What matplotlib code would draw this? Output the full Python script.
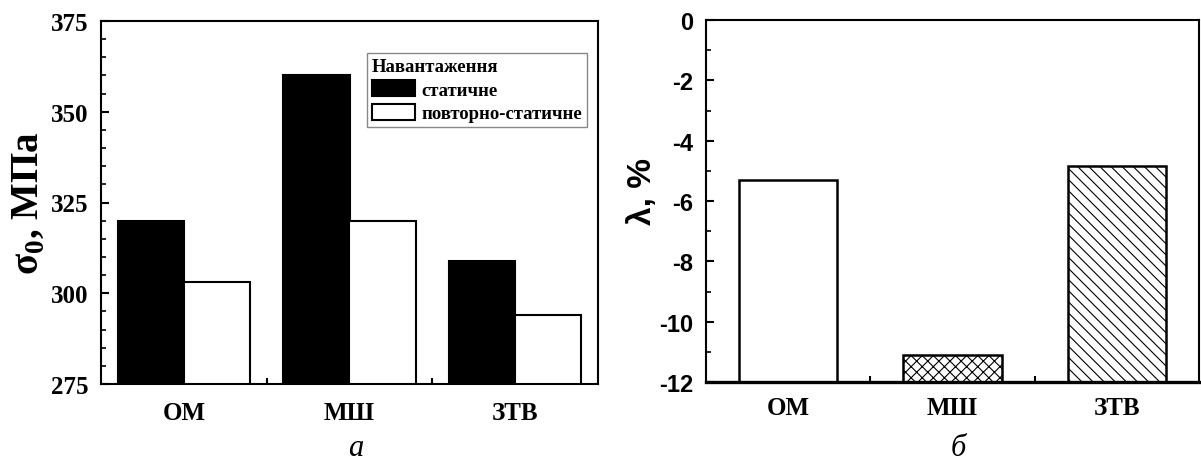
import numpy as np
import matplotlib.pyplot as plt
from matplotlib.ticker import MultipleLocator, FixedLocator

# Дані
categories = ['ОМ', 'МШ', 'ЗТВ']
sigma_static = [320, 360, 309]
sigma_repeat = [303, 320, 294]
series_labels = ['статичне', 'повторно-статичне']
legend_title = 'Навантаження'
lam = [-5.3, -11.1, -4.85]
lam_hatches = ['', 'xxx', '\\\\\\']

plt.rcParams['hatch.linewidth'] = 0.8
plt.rcParams['axes.unicode_minus'] = False
serif = 'Liberation Serif'
sans = 'Liberation Sans'

W, H = 1201, 464
fig = plt.figure(figsize=(W / 100, H / 100), dpi=100)
ax1 = fig.add_axes([101 / W, 1 - 385 / H, 497 / W, 363 / H])
ax2 = fig.add_axes([706 / W, 1 - 383 / H, 493 / W, 362 / H])

x = np.arange(len(categories))

# --- а: межа текучості ---
ax1.bar(x - 0.2, sigma_static, 0.4, color='black', edgecolor='black',
        linewidth=1.5, label=series_labels[0])
ax1.bar(x + 0.2, sigma_repeat, 0.4, color='white', edgecolor='black',
        linewidth=1.5, label=series_labels[1])
ax1.set_xlim(-0.5, 2.5)
ax1.set_ylim(275, 375)
ax1.yaxis.set_major_locator(MultipleLocator(25))
ax1.yaxis.set_minor_locator(MultipleLocator(5))
ax1.set_xticks(x)
ax1.set_xticklabels(categories)
ax1.xaxis.set_minor_locator(FixedLocator([0.5, 1.5]))
ax1.tick_params(axis='y', which='major', direction='in', length=6, width=1.5, pad=9)
ax1.tick_params(axis='y', which='minor', direction='in', length=3.5, width=1.2)
ax1.tick_params(axis='x', which='major', length=0, pad=12)
ax1.tick_params(axis='x', which='minor', direction='in', length=4, width=1.5)
for lab in ax1.get_yticklabels() + ax1.get_xticklabels():
    lab.set_fontfamily(serif)
    lab.set_fontweight('bold')
    lab.set_fontsize(18)
for sp in ax1.spines.values():
    sp.set_linewidth(1.5)
ax1.set_ylabel('σ$_\\mathregular{0}$, МПа', fontfamily=serif, fontweight='bold',
               fontsize=28)
ax1.yaxis.set_label_coords(-0.11, 0.5)

leg = ax1.legend(title=legend_title, loc='upper left', bbox_to_anchor=(0.535, 0.912),
                 prop={'family': serif, 'weight': 'bold', 'size': 13.5},
                 title_fontproperties={'family': serif, 'weight': 'bold', 'size': 13.5},
                 alignment='left', fancybox=False, framealpha=1, edgecolor='#888888',
                 borderpad=0.25, labelspacing=0.3, handlelength=2.3, handleheight=0.9,
                 handletextpad=0.35, borderaxespad=0)
leg.get_frame().set_linewidth(1.0)

# --- б: зміна ---
y0 = -12
for xi, v, h in zip(x, lam, lam_hatches):
    ax2.bar(xi, v - y0, 0.6, bottom=y0, color='white', edgecolor='black',
            linewidth=1.8, hatch=h)
ax2.set_xlim(-0.5, 2.5)
ax2.set_ylim(-12, 0)
ax2.yaxis.set_major_locator(MultipleLocator(2))
ax2.yaxis.set_minor_locator(MultipleLocator(1))
ax2.set_xticks(x)
ax2.set_xticklabels(categories)
ax2.xaxis.set_minor_locator(FixedLocator([0.5, 1.5]))
ax2.tick_params(axis='y', which='major', direction='in', length=6, width=1.5, pad=9)
ax2.tick_params(axis='y', which='minor', direction='in', length=3.5, width=1.2)
ax2.tick_params(axis='x', which='major', length=0, pad=10)
ax2.tick_params(axis='x', which='minor', direction='in', length=4, width=1.5)
for lab in ax2.get_yticklabels():
    lab.set_fontfamily(sans)
    lab.set_fontweight('bold')
    lab.set_fontsize(17)
for lab in ax2.get_xticklabels():
    lab.set_fontfamily(serif)
    lab.set_fontweight('bold')
    lab.set_fontsize(18)
for sp in ax2.spines.values():
    sp.set_linewidth(1.5)
ax2.spines['bottom'].set_linewidth(2.4)
ax2.set_ylabel('λ, %', fontfamily=sans, fontweight='bold', fontsize=24)
ax2.yaxis.set_label_coords(-0.097, 0.53)

fig.text(356 / W, 1 - 456 / H, 'а', fontfamily=serif, style='italic', fontsize=22,
         ha='center', va='baseline')
fig.text(958 / W, 1 - 456 / H, 'б', fontfamily=serif, style='italic', fontsize=22,
         ha='center', va='baseline')

fig.savefig('out.png', dpi=100)
